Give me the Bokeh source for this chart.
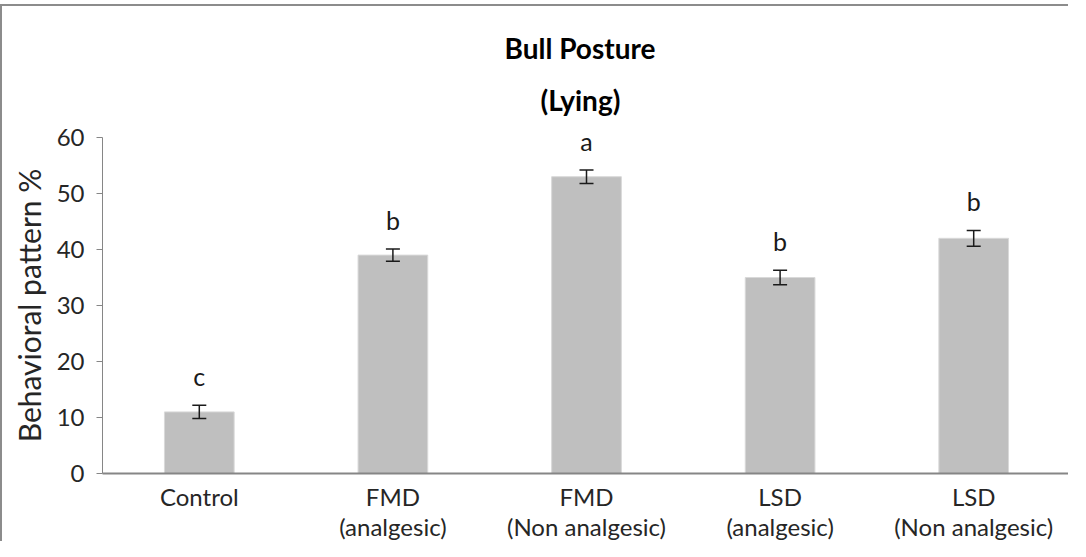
from bokeh.plotting import figure
from bokeh.models import ColumnDataSource, Whisker, Range1d, Title, TeeHead
from bokeh.core.properties import value
from bokeh.embed import file_html
from bokeh.resources import INLINE

categories = ["Control", "FMD\n(analgesic)", "FMD\n(Non analgesic)",
              "LSD\n(analgesic)", "LSD\n(Non analgesic)"]
means = [11, 39, 53, 35, 42]
errors = [1.2, 1.1, 1.2, 1.3, 1.4]
letters = ["c", "b", "a", "b", "b"]
y_ticks = [0, 10, 20, 30, 40, 50, 60]

FONT = "Lato"
AXIS_COLOR = "#868686"
TEXT_COLOR = "#262626"

src = ColumnDataSource(dict(
    cat=categories,
    mean=means,
    upper=[m + e for m, e in zip(means, errors)],
    lower=[m - e for m, e in zip(means, errors)],
    letter=letters,
))

p = figure(
    x_range=categories,
    y_range=Range1d(0, 60),
    width=1068, height=537,
    output_backend="svg", toolbar_location=None,
    min_border_left=100, min_border_right=0,
    min_border_top=131, min_border_bottom=10,
    styles={"border-top": "2px solid #8c8c8c", "border-left": "2px solid #8c8c8c",
            "margin-top": "4px"},
)
p.outline_line_color = None
p.background_fill_color = "white"
p.border_fill_color = "white"

p.vbar(x="cat", top="mean", width=0.36, source=src,
       fill_color="#BFBFBF", line_color="#D9D9D9", line_width=1)

w = Whisker(base="cat", upper="upper", lower="lower", source=src,
            line_color="#1a1a1a", line_width=1.5,
            upper_head=TeeHead(size=14, line_color="#1a1a1a", line_width=1.5),
            lower_head=TeeHead(size=14, line_color="#1a1a1a", line_width=1.5))
w.level = "overlay"
p.add_layout(w)

p.text(x="cat", y="upper", text="letter", source=src, y_offset=-29,
       text_align="center", text_baseline="middle",
       text_font=value(FONT), text_font_size="25px", text_color="#1a1a1a")

# titles (second line added first so it sits nearest the plot)
t2 = Title(text="(Lying)", align="left", offset=438, standoff=37,
           vertical_align="top",
           text_font=FONT, text_font_size="28px", text_font_style="bold",
           text_color="#000000")
t1 = Title(text="Bull Posture", align="left", offset=402, standoff=0,
           vertical_align="bottom",
           text_font=FONT, text_font_size="28px", text_font_style="bold",
           text_color="#000000")
p.add_layout(t2, "above")
p.add_layout(t1, "above")

p.xgrid.grid_line_color = None
p.ygrid.grid_line_color = None

p.yaxis.ticker = y_ticks
p.yaxis.axis_line_color = AXIS_COLOR
p.yaxis.major_tick_line_color = AXIS_COLOR
p.yaxis.major_tick_out = 6
p.yaxis.major_tick_in = 0
p.yaxis.minor_tick_line_color = None
p.yaxis.major_label_text_font = FONT
p.yaxis.major_label_text_font_size = "24px"
p.yaxis.major_label_text_color = TEXT_COLOR
p.yaxis.major_label_standoff = 12
p.yaxis.axis_label = "Behavioral pattern %"
p.yaxis.axis_label_text_font = FONT
p.yaxis.axis_label_text_font_size = "30px"
p.yaxis.axis_label_text_font_style = "normal"
p.yaxis.axis_label_text_color = TEXT_COLOR
p.yaxis.axis_label_standoff = 7

p.xaxis.axis_line_color = AXIS_COLOR
p.xaxis.axis_line_width = 2
p.xaxis.major_tick_line_color = None
p.xaxis.major_tick_out = 0
p.xaxis.major_tick_in = 0
p.xaxis.minor_tick_line_color = None
p.xaxis.major_label_text_font = FONT
p.xaxis.major_label_text_font_size = "24px"
p.xaxis.major_label_text_line_height = 1.05
p.xaxis.major_label_text_color = TEXT_COLOR
p.xaxis.major_label_standoff = 8

open("out.html", "w").write(file_html(p, INLINE))
